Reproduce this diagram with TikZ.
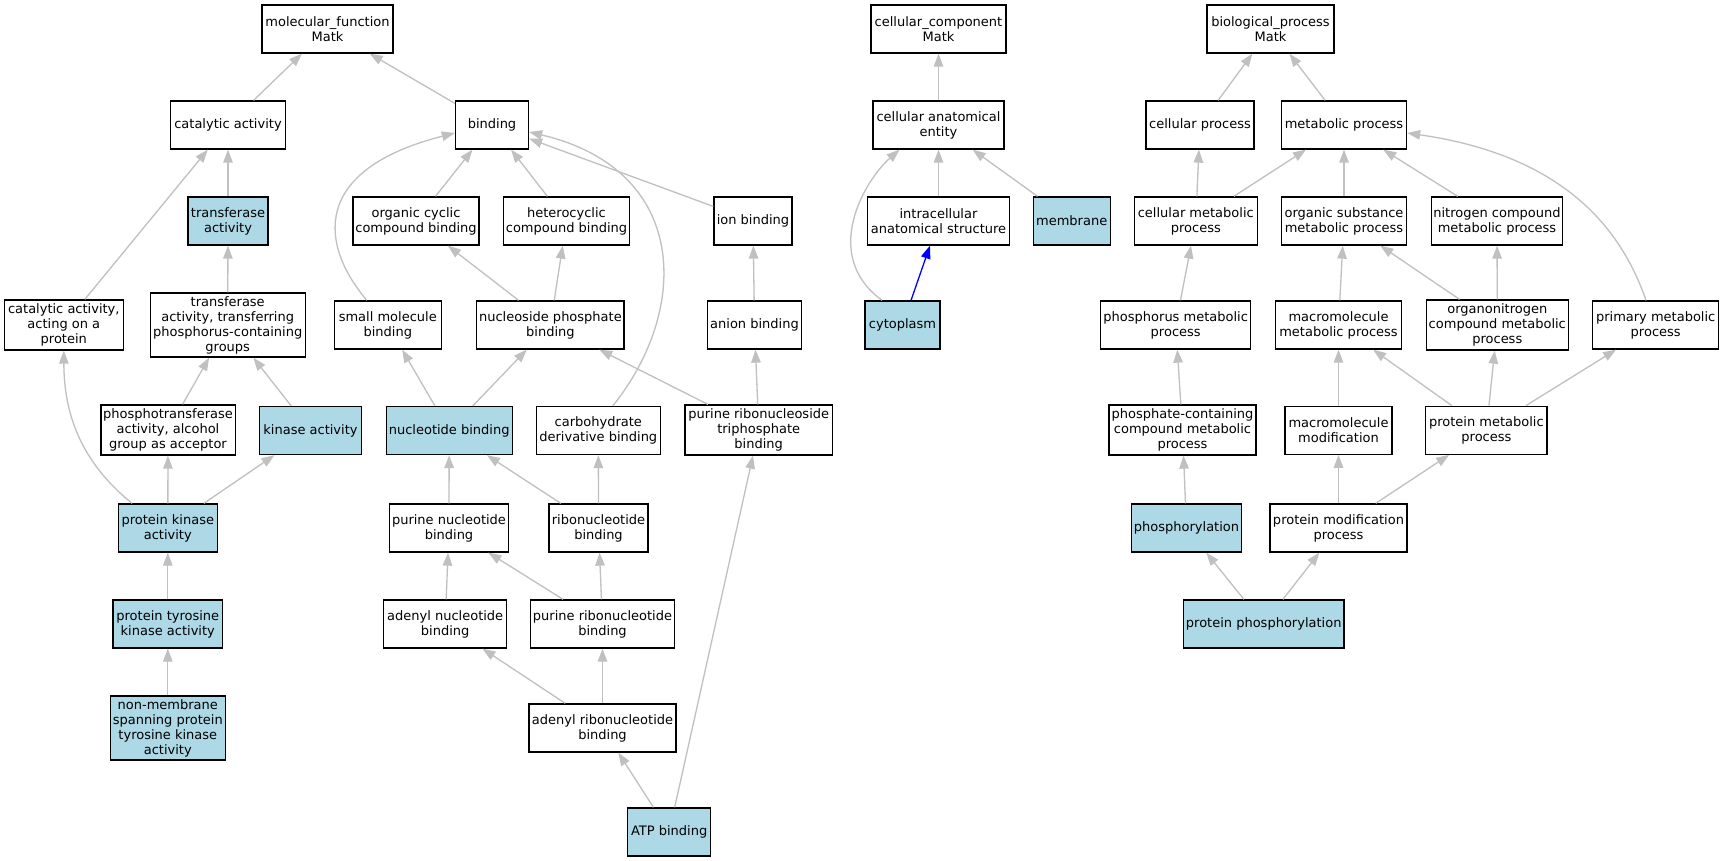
\documentclass[tikz,border=0pt]{standalone}
\usepackage{fontspec}
\setmainfont{DejaVu Sans}
\usetikzlibrary{arrows.meta}
\definecolor{edgegray}{HTML}{C0C0C0}
\definecolor{lblue}{HTML}{ADD8E6}
\begin{document}
\begin{tikzpicture}[x=1pt,y=-1pt,
  gobox/.style={draw=black,line width=1.3pt,rectangle,inner sep=0pt,align=center,
    font=\fontsize{13pt}{15pt}\selectfont,minimum height=48pt},
  hit/.style={gobox,fill=lblue},
  edge/.style={draw=edgegray,line width=1.3pt,-{Triangle[length=13pt,width=9.5pt]}},
  bedge/.style={draw=blue,line width=1.3pt,-{Triangle[length=13pt,width=9.5pt]}}]
\useasboundingbox[fill=white] (0,0) rectangle (1725,861);
% row 1
\node[gobox,minimum width=131pt] (MF) at (327.5,29) {molecular\_function\\Matk};
\node[gobox,minimum width=135pt] (CC) at (938.5,29) {cellular\_component\\Matk};
\node[gobox,minimum width=127pt] (BP) at (1270.5,29) {biological\_process\\Matk};
% row 2
\node[gobox,minimum width=115pt] (catact) at (228,125) {catalytic activity};
\node[gobox,minimum width=73pt] (binding) at (492,125) {binding};
\node[gobox,minimum width=131pt] (cae) at (938.5,125) {cellular anatomical\\entity};
\node[gobox,minimum width=108pt] (cellproc) at (1200,125) {cellular process};
\node[gobox,minimum width=125pt] (metproc) at (1344,125) {metabolic process};
% row 3
\node[hit,minimum width=80pt] (transf) at (228,221) {transferase\\activity};
\node[gobox,minimum width=126pt] (occb) at (416,221) {organic cyclic\\compound binding};
\node[gobox,minimum width=126pt] (hccb) at (566.5,221) {heterocyclic\\compound binding};
\node[gobox,minimum width=78pt] (ionb) at (753,221) {ion binding};
\node[gobox,minimum width=141.6pt] (ias) at (938.5,221) {intracellular\\anatomical structure};
\node[hit,minimum width=77pt] (membrane) at (1071.7,221) {membrane};
\node[gobox,minimum width=123pt] (cmp) at (1195.8,221) {cellular metabolic\\process};
\node[gobox,minimum width=125pt] (osmp) at (1344,221) {organic substance\\metabolic process};
\node[gobox,minimum width=131.6pt] (ncmp) at (1497,221) {nitrogen compound\\metabolic process};
% row 4
\node[gobox,minimum width=119pt,minimum height=50pt] (caap) at (63.8,325) {catalytic activity,\\acting on a\\protein};
\node[gobox,minimum width=155pt,minimum height=64pt] (ttpg) at (227.7,325) {transferase\\activity, transferring\\phosphorus-containing\\groups};
\node[gobox,minimum width=107pt] (smb) at (387.8,325) {small molecule\\binding};
\node[gobox,minimum width=147.4pt] (npb) at (550.4,325) {nucleoside phosphate\\binding};
\node[gobox,minimum width=94pt] (anion) at (754.5,325) {anion binding};
\node[hit,minimum width=75pt] (cytoplasm) at (902.5,325) {cytoplasm};
\node[gobox,minimum width=150pt] (pmp) at (1175.7,325) {phosphorus metabolic\\process};
\node[gobox,minimum width=125.4pt] (mmp) at (1338.5,325) {macromolecule\\metabolic process};
\node[gobox,minimum width=142.3pt,minimum height=50pt] (onmp) at (1497.3,325) {organonitrogen\\compound metabolic\\process};
\node[gobox,minimum width=126pt] (primp) at (1655.7,325) {primary metabolic\\process};
% row 5
\node[gobox,minimum width=134.3pt,minimum height=50pt] (ptaa) at (168,430) {phosphotransferase\\activity, alcohol\\group as acceptor};
\node[hit,minimum width=102.3pt] (kinase) at (310.5,430.5) {kinase activity};
\node[hit,minimum width=126pt] (nucb) at (449.2,430.5) {nucleotide binding};
\node[gobox,minimum width=124pt] (carb) at (598.3,430.5) {carbohydrate\\derivative binding};
\node[gobox,minimum width=147.4pt,minimum height=50pt] (prtb) at (758.7,430) {purine ribonucleoside\\triphosphate\\binding};
\node[gobox,minimum width=147pt,minimum height=50pt] (pccmp) at (1182.5,430) {phosphate-containing\\compound metabolic\\process};
\node[gobox,minimum width=107pt] (mmod) at (1338.5,430.2) {macromolecule\\modification};
\node[gobox,minimum width=121.4pt] (protmet) at (1486.4,430.2) {protein metabolic\\process};
% row 6
\node[hit,minimum width=98.7pt] (pka) at (167.8,528) {protein kinase\\activity};
\node[gobox,minimum width=118.4pt] (pnb) at (449,528) {purine nucleotide\\binding};
\node[gobox,minimum width=99pt] (ribb) at (598.5,528) {ribonucleotide\\binding};
\node[hit,minimum width=110.4pt] (phos) at (1186.5,528) {phosphorylation};
\node[gobox,minimum width=137pt] (pmod) at (1338.5,528) {protein modification\\process};
% row 7
\node[hit,minimum width=109.7pt] (ptk) at (167.8,624) {protein tyrosine\\kinase activity};
\node[gobox,minimum width=123pt] (anb) at (445.2,624) {adenyl nucleotide\\binding};
\node[gobox,minimum width=144.4pt] (prnb) at (602.5,624) {purine ribonucleotide\\binding};
\node[hit,minimum width=160.6pt] (pphos) at (1263.7,624) {protein phosphorylation};
% row 8
\node[hit,minimum width=114.8pt,minimum height=64pt] (nmsp) at (167.8,728) {non-membrane\\spanning protein\\tyrosine kinase\\activity};
\node[gobox,minimum width=147pt] (arnb) at (602.5,728) {adenyl ribonucleotide\\binding};
% row 9
\node[hit,minimum width=83pt] (atp) at (669.2,832) {ATP binding};
% straight edges
\foreach \c/\p in {catact/MF,binding/MF,transf/catact,caap/catact,ttpg/transf,
  occb/binding,hccb/binding,ionb/binding,npb/occb,npb/hccb,ptaa/ttpg,kinase/ttpg,
  pka/ptaa,pka/kinase,ptk/pka,nmsp/ptk,nucb/smb,nucb/npb,pnb/nucb,ribb/nucb,ribb/carb,
  anb/pnb,prnb/pnb,prnb/ribb,arnb/anb,arnb/prnb,atp/arnb,atp/prtb,prtb/npb,prtb/anion,
  anion/ionb,cae/CC,ias/cae,membrane/cae,cellproc/BP,metproc/BP,cmp/cellproc,cmp/metproc,
  osmp/metproc,ncmp/metproc,pmp/cmp,mmp/osmp,onmp/osmp,onmp/ncmp,pccmp/pmp,mmod/mmp,
  protmet/mmp,protmet/onmp,protmet/primp,phos/pccmp,pmod/mmod,pmod/protmet,pphos/phos,pphos/pmod}
  {\draw[edge] (\c) -- (\p);}
\draw[bedge] (cytoplasm) -- (ias);
% curved edges
\draw[edge] ([xshift=-21pt]smb.north) .. controls (320,245) and (310,170) .. ([yshift=-8pt]binding.west);
\draw[edge] ([xshift=14.5pt]carb.north) .. controls (690,310) and (690,170) .. ([yshift=-7pt]binding.east);
\draw[edge] ([xshift=-35.8pt]pka.north) .. controls (85,465) and (64,420) .. (caap.south);
\draw[edge] ([xshift=-20.5pt]cytoplasm.north) .. controls (820,255) and (865,180) .. ([xshift=-39pt]cae.south);
\draw[edge] ([xshift=-9.7pt]primp.north) .. controls (1620,225) and (1560,155) .. ([yshift=-8pt]metproc.east);
\end{tikzpicture}
\end{document}
